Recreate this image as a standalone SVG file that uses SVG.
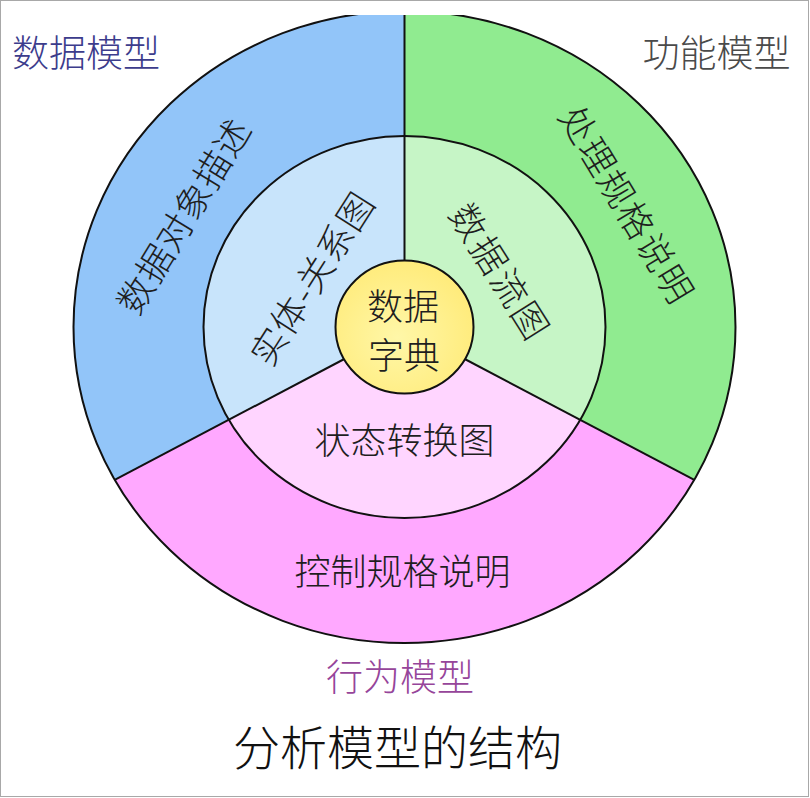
<svg xmlns="http://www.w3.org/2000/svg" width="810" height="798" viewBox="0 0 810 798">
<defs>
<clipPath id="clip"><rect x="0" y="15" width="810" height="783"/></clipPath>
<radialGradient id="yellow" cx="45%" cy="58%" r="60%"><stop offset="0" stop-color="#fff7a8"/><stop offset="1" stop-color="#ffeb7a"/></radialGradient>
</defs>
<style>
.t{font-family:"Noto Sans CJK SC","Noto Sans",sans-serif;text-anchor:middle;dominant-baseline:central;font-weight:300;}
.ring{font-size:36px;fill:#1e1e1e;}
.edge{fill:none;stroke:#111;stroke-width:2;}
.title{font-size:37px;}
</style>
<rect width="810" height="798" fill="#fff"/>
<rect x="0.5" y="0.5" width="808" height="796" fill="none" stroke="#a8a8a8"/>
<g clip-path="url(#clip)">
<g id="data-model">
<path d="M404.5,327 L404.5,11 A331,316 0 0 0 114.7,479.8 Z" fill="#92c5f9"/>
<path d="M404.5,327 L404.5,136 A201,191 0 0 0 228.7,419.7 Z" fill="#c8e4fb"/>
</g>
<g id="function-model">
<path d="M404.5,327 L404.5,11 A331,316 0 0 1 694.3,479.8 Z" fill="#90eb90"/>
<path d="M404.5,327 L404.5,136 A201,191 0 0 1 580.3,419.7 Z" fill="#c6f5c6"/>
</g>
<g id="behavior-model">
<path d="M404.5,327 L114.7,479.8 A331,316 0 0 0 694.3,479.8 Z" fill="#ffa8ff"/>
<path d="M404.5,327 L228.7,419.7 A201,191 0 0 0 580.3,419.7 Z" fill="#ffd5ff"/>
</g>
<g id="connectors">
<ellipse class="edge" cx="404.5" cy="327" rx="331" ry="316"/>
<ellipse class="edge" cx="404.5" cy="327" rx="201" ry="191"/>
<line class="edge" x1="404.5" y1="0" x2="404.5" y2="270"/>
<line class="edge" x1="114.7" y1="479.8" x2="350" y2="356"/>
<line class="edge" x1="694.3" y1="479.8" x2="459" y2="356"/>
</g>
</g>
<g id="data-dictionary">
<ellipse cx="404.5" cy="327" rx="69" ry="66.5" fill="url(#yellow)" stroke="#111" stroke-width="2"/>
<text class="t ring" x="403" y="303.5">数据</text>
<text class="t ring" x="404" y="352.5">字典</text>
</g>
<g id="data-object-desc"><text class="t ring" x="181.5" y="215" transform="rotate(-58.5 181.5 215)" textLength="220" lengthAdjust="spacing">数据对象描述</text></g>
<g id="er-diagram"><text class="t ring" x="310" y="277.5" transform="rotate(-57.5 310 277.5)" textLength="196" lengthAdjust="spacing">实体-关系图</text></g>
<g id="dfd"><text class="t ring" x="501.5" y="270" transform="rotate(57.8 501.5 270)" textLength="152" lengthAdjust="spacing">数据流图</text></g>
<g id="process-spec"><text class="t ring" x="628.5" y="203" transform="rotate(58.8 628.5 203)" textLength="222" lengthAdjust="spacing">处理规格说明</text></g>
<g id="std"><text class="t ring" x="404.5" y="437.5">状态转换图</text></g>
<g id="control-spec"><text class="t ring" x="402.5" y="568.5">控制规格说明</text></g>
<g id="label-data-model"><text class="t title" x="86" y="50.5" fill="#3c3c8c">数据模型</text></g>
<g id="label-function-model"><text class="t title" x="716.5" y="50.5" fill="#4a4a4a">功能模型</text></g>
<g id="label-behavior-model"><text class="t title" x="400" y="675" fill="#96459a">行为模型</text></g>
<g id="caption"><text class="t" x="397.5" y="744" font-size="47" font-weight="400" fill="#111">分析模型的结构</text></g>
</svg>
